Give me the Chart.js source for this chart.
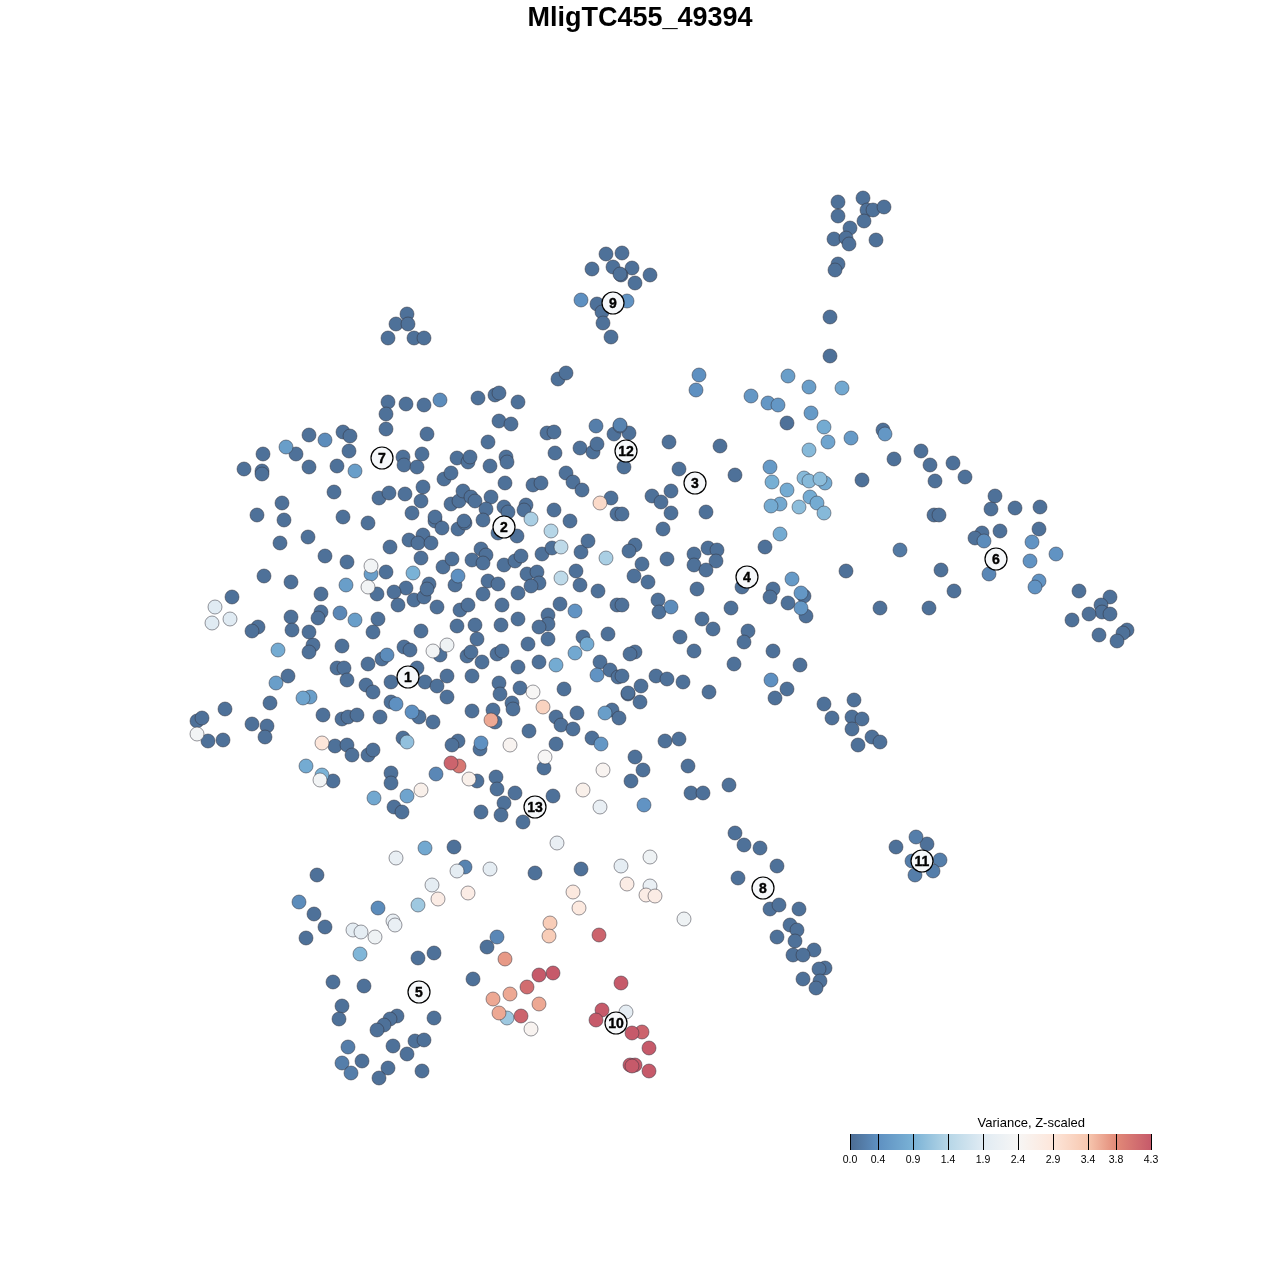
<!DOCTYPE html>
<html>
<head>
<meta charset="utf-8">
<script src="https://cdn.jsdelivr.net/npm/chart.js@4/dist/chart.umd.min.js"></script>
<style>
  html, body { margin: 0; padding: 0; background: #fff; }
  #wrap { position: relative; width: 1280px; height: 1280px; }
  #mapChart { position: absolute; left: 0; top: 0; }
  #barChart { position: absolute; left: 790px; top: 1110px; }
</style>
</head>
<body>
<div id="wrap">
  <canvas id="mapChart" width="1280" height="1280"></canvas>
  <canvas id="barChart" width="400" height="64"></canvas>
</div>
<script>
const plotTitle = 'MligTC455_49394';
const barTitle = 'Variance, Z-scaled';

// Cells with no signal (all at the bottom of the colour scale)
const lowVariance = 0.05;
const lowX = [
  403,404,417,422,457,468,470,490,506,507,
  555,580,593,597,444,451,505,533,541,566,
  573,582,379,389,405,423,421,412,451,459,
  463,471,475,491,486,483,504,508,526,524,
  554,570,611,617,368,435,435,442,458,465,
  464,498,517,423,409,418,431,390,421,443,
  452,472,481,486,483,504,515,521,542,552,
  581,588,386,406,394,377,398,414,424,429,
  427,437,455,488,498,483,518,527,537,539,
  531,576,580,598,617,460,468,502,560,548,
  548,539,378,373,421,457,475,501,518,477,
  528,548,583,608,404,410,440,382,368,467,
  471,497,502,482,539,518,600,610,618,417,
  391,425,437,447,472,499,500,520,564,447,
  366,373,391,512,309,343,350,349,296,263,
  244,262,262,309,337,334,282,257,284,343,
  280,308,325,347,264,291,321,232,291,292,
  321,318,313,309,309,258,252,342,337,344,
  347,288,270,225,197,202,252,267,265,208,
  223,323,342,348,357,335,347,352,368,373,
  380,419,433,472,493,513,495,556,577,561,
  573,529,592,612,619,628,640,403,458,452,
  480,556,544,391,391,477,496,497,515,504,
  501,481,523,553,394,402,635,643,631,665,
  679,333,388,406,424,386,386,427,478,495,
  499,518,499,511,488,547,554,558,566,614,
  629,830,787,669,720,624,679,735,862,671,
  652,661,671,706,622,663,765,635,629,667,
  694,708,717,716,694,706,642,634,648,697,
  742,773,770,846,788,804,806,658,659,622,
  731,880,702,713,748,744,680,694,635,630,
  773,800,734,656,667,683,622,641,628,709,
  787,775,824,854,832,852,862,852,858,872,
  880,688,691,703,729,863,838,867,873,884,
  838,864,850,834,846,849,876,838,835,830,
  606,622,613,632,592,621,650,635,597,602,
  603,611,620,407,396,408,388,414,424,883,
  894,921,930,935,953,965,995,991,1015,1040,
  934,939,982,975,1000,1039,941,954,929,1079,
  1110,1101,1102,1110,1089,1072,1099,1127,1123,1117,
  735,744,760,777,738,770,779,799,790,797,
  777,795,814,793,803,825,819,820,816,803,
  927,896,317,314,325,306,454,434,418,487,
  333,364,473,342,339,434,397,390,384,377,
  415,424,393,407,362,388,422,379,535,581
];
const lowY = [
  457,465,467,454,458,462,457,466,457,462,
  453,448,452,444,479,473,483,485,483,473,
  482,490,498,493,494,487,501,513,504,501,
  491,497,501,497,509,520,507,512,505,510,
  510,521,498,514,523,521,517,528,529,523,
  521,533,536,535,540,543,543,547,558,567,
  559,560,549,555,563,565,561,556,554,548,
  552,541,572,588,592,594,605,600,597,584,
  589,607,585,581,584,594,593,574,572,583,
  586,571,585,591,605,610,605,605,604,615,
  624,627,619,632,631,626,625,625,619,639,
  644,639,637,634,647,650,655,659,664,656,
  652,654,651,662,662,667,662,670,677,668,
  682,682,686,676,676,683,694,688,689,697,
  685,692,702,703,435,432,436,451,454,454,
  469,471,474,467,466,492,503,515,520,517,
  543,537,556,562,576,582,594,597,617,630,
  612,618,645,652,632,627,631,646,668,668,
  680,676,703,709,721,718,724,726,737,741,
  740,715,719,717,715,746,745,755,755,750,
  717,717,722,711,710,709,722,717,713,725,
  729,731,738,710,718,694,702,738,741,745,
  749,744,768,773,783,781,777,789,793,803,
  815,812,822,796,807,812,757,770,781,741,
  739,781,402,404,405,414,429,434,398,395,
  393,402,421,424,442,433,432,379,373,434,
  433,356,423,442,446,467,469,475,480,491,
  496,502,513,512,514,529,547,545,551,559,
  554,548,550,561,565,570,564,576,582,589,
  587,589,597,571,603,596,616,600,612,605,
  608,608,619,629,631,642,637,651,652,654,
  651,665,664,676,679,682,676,686,693,692,
  689,698,704,700,718,717,719,729,745,737,
  742,766,793,793,785,198,202,210,210,207,
  216,221,228,239,238,244,240,264,270,317,
  254,253,267,268,269,275,275,283,304,312,
  323,337,274,314,324,324,338,338,338,430,
  459,451,465,481,463,477,496,509,508,507,
  515,515,533,538,531,529,570,591,608,591,
  597,605,612,614,614,620,635,630,633,641,
  833,845,848,866,878,909,905,909,925,930,
  937,941,950,955,955,968,969,981,988,979,
  844,847,875,914,927,938,847,953,958,947,
  982,986,979,1006,1019,1018,1016,1019,1025,1030,
  1041,1040,1046,1054,1061,1068,1071,1078,873,869
];

// Cells that carry a visible colour
const cellX = [
  325,286,355,346,340,355,371,278,276,310,303,
  371,368,215,212,230,197,322,
  531,551,561,606,561,458,413,575,587,575,556,597,387,433,447,533,600,
  396,412,491,543,605,481,407,510,545,601,603,451,459,436,469,421,374,407,583,600,644,557,
  306,322,320,
  699,696,788,809,842,751,768,778,811,824,828,851,809,770,772,787,804,809,820,825,810,817,824,799,780,771,780,792,801,801,671,771,
  620,620,596,440,
  581,627,885,984,1032,1056,900,989,1030,1039,1035,
  916,912,940,915,933,
  299,378,425,396,457,432,438,418,353,361,375,393,395,360,348,342,351,465,
  490,621,650,468,627,650,646,655,573,579,684,550,549,599,505,553,539,527,510,493,539,499,507,521,531,
  621,602,596,626,632,642,649,630,635,632,649,497
];
const cellY = [
  440,447,471,585,613,620,574,650,683,697,698,
  566,587,607,623,619,734,743,
  519,531,547,558,578,576,573,611,644,653,665,675,655,651,645,692,503,
  704,712,720,707,713,743,742,745,757,744,770,763,766,774,779,790,798,796,790,807,805,843,
  766,775,780,
  375,390,376,387,388,396,403,405,413,427,442,438,450,467,482,490,478,481,479,483,497,503,513,507,504,506,534,579,593,608,607,680,
  426,425,426,400,
  300,301,434,541,542,554,550,574,561,581,587,
  837,861,860,875,871,
  902,908,848,858,871,885,899,905,930,932,937,921,925,954,1047,1063,1073,867,
  869,866,857,893,884,886,895,896,892,908,919,923,936,935,959,973,975,987,994,999,1004,1013,1018,1016,1029,
  983,1010,1020,1012,1033,1032,1048,1065,1065,1066,1071,937
];
const cellVariance = [
  0.35,0.6,0.6,0.6,0.3,0.6,0.6,0.8,0.6,0.6,0.7,
  2.3,2.3,1.9,1.9,1.9,2.3,2.9,
  1.3,1.4,1.5,1.3,1.5,0.4,0.9,0.45,0.8,0.75,0.8,0.45,0.35,2.3,2.2,2.4,3.1,
  0.4,0.4,3.6,3.2,0.6,0.4,1.1,2.5,2.4,0.5,2.5,4.2,4.0,0.3,2.6,2.6,0.75,0.7,2.6,2.1,0.45,2.1,
  0.8,0.9,2.3,
  0.4,0.4,0.6,0.6,0.75,0.5,0.5,0.5,0.55,0.8,0.7,0.55,1.0,0.55,0.85,0.8,1.0,1.0,1.05,0.8,0.8,0.8,1.0,1.05,0.75,0.8,0.8,0.55,0.5,0.5,0.35,0.4,
  0.2,0.25,0.2,0.35,
  0.4,0.45,0.5,0.35,0.45,0.45,0.15,0.3,0.45,0.45,0.45,
  0.2,0.2,0.2,0.2,0.2,
  0.35,0.35,0.75,2.1,2.0,2.0,2.7,1.2,2.0,2.0,2.2,2.1,2.1,0.95,0.2,0.2,0.2,0.25,
  2.0,2.0,2.2,2.7,2.7,2.1,2.7,2.7,2.8,2.8,2.2,3.3,3.3,4.2,3.7,4.3,4.3,4.1,3.6,3.6,3.6,3.6,1.2,4.2,2.5,
  4.3,4.3,4.3,2.0,4.3,4.2,4.3,4.3,4.3,4.3,4.3,0.3
];

// Numbered cluster badges
const clusterIds = ['1','2','3','4','5','6','7','8','9','10','11','12','13'];
const clusterX = [408,504,695,747,419,996,382,763,613,616,922,626,535];
const clusterY = [677,527,483,577,992,559,458,888,303,1023,861,451,807];

// Colour bar
const barTicks = [0.0,0.4,0.9,1.4,1.9,2.4,2.9,3.4,3.8,4.3];
const barColors = ['#4c6c93','#5e90c1','#7ab2d6','#b6d6e7','#e0ebf3','#f7f6f5','#fde6da','#f7c7af','#e28a78','#c65a6a'];

function hexToRgb(hex) {
    return [1, 3, 5].map(i => parseInt(hex.slice(i, i + 2), 16));
}

// Piecewise colour lookup along the bar's stops
function varianceColor(v) {
    let i = 0;
    while (i < barTicks.length - 2 && v > barTicks[i + 1]) i++;
    const t = Math.min(1, Math.max(0, (v - barTicks[i]) / (barTicks[i + 1] - barTicks[i])));
    const a = hexToRgb(barColors[i]);
    const b = hexToRgb(barColors[i + 1]);
    const c = a.map((n, k) => Math.round(n + (b[k] - n) * t));
    return 'rgb(' + c.join(',') + ')';
}

// Low cells first, higher variance painted on top
const mapPoints = lowX.map((x, i) => ({ x: x, y: lowY[i], v: lowVariance }));
cellX.forEach((x, i) => mapPoints.push({ x: x, y: cellY[i], v: cellVariance[i] }));
mapPoints.sort((a, b) => a.v - b.v);

const badgePoints = clusterIds.map((id, i) => ({ x: clusterX[i], y: clusterY[i] }));

// Writes the cluster number in the middle of each badge
const badgeText = {
    id: 'badgeText',
    afterDatasetsDraw(chart) {
        const ctx = chart.ctx;
        const els = chart.getDatasetMeta(1).data;
        ctx.save();
        ctx.font = 'bold 14px "Liberation Sans", Arial, sans-serif';
        ctx.fillStyle = '#000';
        ctx.strokeStyle = '#000';
        ctx.lineWidth = 0.4;
        ctx.textAlign = 'center';
        ctx.textBaseline = 'middle';
        els.forEach((el, i) => {
            ctx.fillText(clusterIds[i], el.x, el.y + 1);
            ctx.strokeText(clusterIds[i], el.x, el.y + 1);
        });
        ctx.restore();
    }
};

new Chart(document.getElementById('mapChart').getContext('2d'), {
    type: 'scatter',
    plugins: [badgeText],
    data: {
        datasets: [{
            order: 2,
            data: mapPoints,
            pointRadius: 7,
            pointHoverRadius: 7,
            pointBorderWidth: 1,
            pointBorderColor: 'rgba(50,50,60,0.5)',
            pointBackgroundColor: mapPoints.map(p => varianceColor(p.v))
        }, {
            order: 1,
            data: badgePoints,
            pointRadius: 11,
            pointBorderWidth: 1.2,
            pointBorderColor: '#000',
            pointBackgroundColor: '#f6f8fa'
        }]
    },
    options: {
        responsive: false,
        animation: false,
        layout: { padding: 0, autoPadding: false },
        plugins: {
            legend: { display: false },
            tooltip: { enabled: false },
            title: {
                display: true,
                text: plotTitle,
                color: '#000',
                font: { family: '"Liberation Sans", Arial, sans-serif', size: 27, weight: 'bold', lineHeight: 1.2 },
                padding: { top: 2, bottom: 5.6 }
            }
        },
        scales: {
            x: { type: 'linear', display: false, min: 0, max: 1280 },
            y: { type: 'linear', display: false, min: 40, max: 1280, reverse: true }
        }
    }
});

// Caption sits off-centre above the bar, so it goes through the value scale
const barCaption = {
    id: 'barCaption',
    afterDraw(chart) {
        const ctx = chart.ctx;
        ctx.save();
        ctx.font = '13px "Liberation Sans", Arial, sans-serif';
        ctx.fillStyle = '#000';
        ctx.textAlign = 'center';
        ctx.textBaseline = 'middle';
        ctx.fillText(barTitle, chart.scales.x.getPixelForValue(2.59), 13.5);
        ctx.restore();
    }
};

new Chart(document.getElementById('barChart').getContext('2d'), {
    type: 'bar',
    plugins: [barCaption],
    data: {
        labels: [barTitle],
        datasets: [{
            data: [barTicks[barTicks.length - 1]],
            barPercentage: 1,
            categoryPercentage: 1,
            backgroundColor(c) {
                const area = c.chart.chartArea;
                if (!area) return barColors[0];
                const g = c.chart.ctx.createLinearGradient(area.left, 0, area.right, 0);
                const top = barTicks[barTicks.length - 1];
                barTicks.forEach((v, i) => g.addColorStop(v / top, barColors[i]));
                return g;
            }
        }]
    },
    options: {
        indexAxis: 'y',
        responsive: false,
        animation: false,
        layout: { padding: { left: 60, right: 39, top: 24, bottom: 0 } },
        plugins: { legend: { display: false }, tooltip: { enabled: false } },
        scales: {
            y: { display: false },
            x: {
                type: 'linear',
                min: 0,
                max: barTicks[barTicks.length - 1],
                afterBuildTicks(scale) { scale.ticks = barTicks.map(v => ({ value: v })); },
                afterFit(scale) { scale.height = 24; },
                border: { display: false },
                grid: { color: '#000', lineWidth: 1, drawTicks: false, z: 1 },
                ticks: {
                    color: '#000',
                    padding: 4,
                    autoSkip: false,
                    maxRotation: 0,
                    font: { family: '"Liberation Sans", Arial, sans-serif', size: 10.5 },
                    callback: v => v.toFixed(1)
                }
            }
        }
    }
});
</script>
</body>
</html>
